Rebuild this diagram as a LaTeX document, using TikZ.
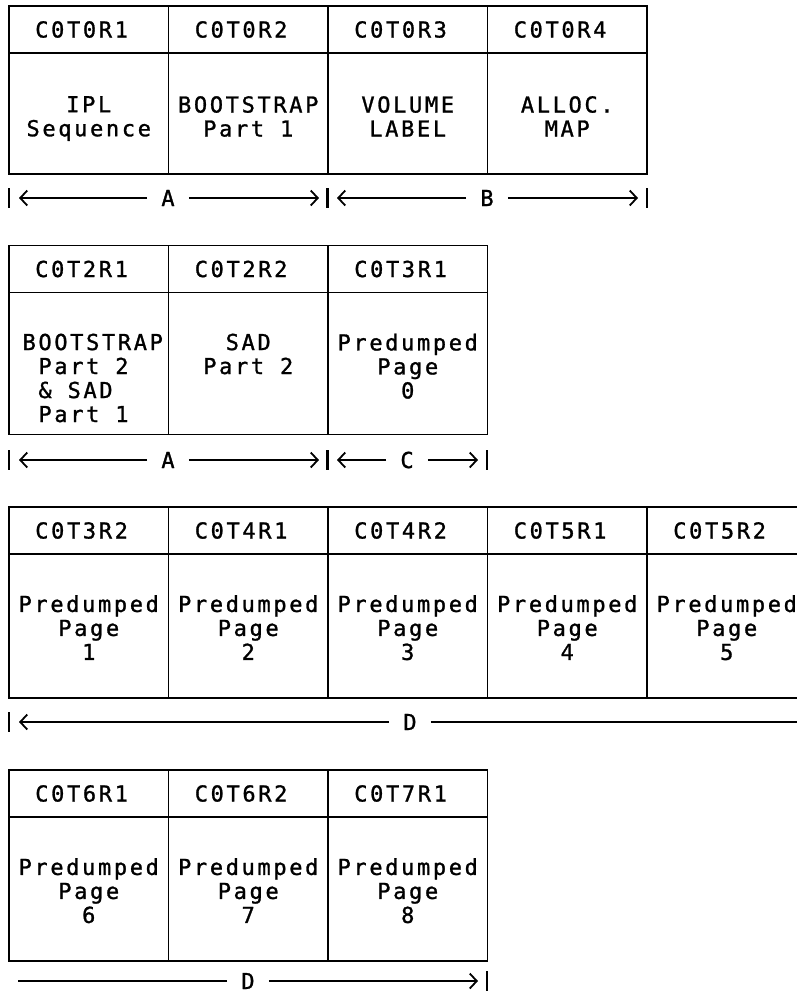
\documentclass[tikz,border=0pt]{standalone}
\usepackage{fontspec}
\newfontfamily\printfont{DejaVu Sans Mono}[LetterSpace=12, FakeBold=1.2]
\usepackage{tikz}
\usetikzlibrary{arrows.meta, positioning}
\tikzset{
  font=\printfont\fontsize{22}{24}\selectfont,
  hdrbox/.style={
    rectangle, draw, line width=1.7pt, outer sep=0pt, inner sep=0pt,
    minimum width=159.5pt, minimum height=47pt,
    text width=107pt, align=left
  },
  bodybox/.style={
    rectangle, draw, line width=1.7pt, outer sep=0pt, inner sep=0pt,
    minimum width=159.5pt, minimum height=144pt
  },
  bodytext/.style={inner sep=0pt, align=center, anchor=north},
  dimlabel/.style={inner xsep=14pt, inner ysep=0pt},
  dimline/.style={
    line width=1.4pt, -{Straight Barb[length=7pt, width=15pt, line width=1.8pt]}
  },
  plainline/.style={line width=1.4pt},
  tickmark/.style={line width=2.2pt}
}

\begin{document}
\begin{tikzpicture}[x=1pt, y=-1pt]
  \useasboundingbox (0,0) rectangle (796,994);

  % track 0
  \node[hdrbox] (h11) at (88.75,29.5) {C0T0R1};
  \node[hdrbox, right=0pt of h11] (h12) {C0T0R2};
  \node[hdrbox, right=0pt of h12] (h13) {C0T0R3};
  \node[hdrbox, right=0pt of h13] (h14) {C0T0R4};
  \node[bodybox, minimum height=121pt, below=0pt of h11] (b11) {};
  \node[bodybox, minimum height=121pt, below=0pt of h12] (b12) {};
  \node[bodybox, minimum height=121pt, below=0pt of h13] (b13) {};
  \node[bodybox, minimum height=121pt, below=0pt of h14] (b14) {};
  \node[bodytext, below=43pt of h11] (t11) {IPL\\Sequence};
  \node[bodytext, below=43pt of h12] (t12) {BOOTSTRAP\\Part 1};
  \node[bodytext, below=43pt of h13] (t13) {VOLUME\\LABEL};
  \node[bodytext, below=43pt of h14] (t14) {ALLOC.\\MAP};

  \coordinate (k10) at (9,198);
  \coordinate (k11) at (327.5,198);
  \coordinate (k12) at (647,198);
  \coordinate (e1a) at (19,198);
  \coordinate (e1b) at (319,198);
  \coordinate (e1c) at (337,198);
  \coordinate (e1d) at (638,198);
  \node[dimlabel] (lblA1) at (168,198) {A};
  \node[dimlabel] (lblB1) at (487,198) {B};
  \draw[dimline] (lblA1) -- (e1a);
  \draw[dimline] (lblA1) -- (e1b);
  \draw[dimline] (lblB1) -- (e1c);
  \draw[dimline] (lblB1) -- (e1d);
  \draw[tickmark] (k10) +(0,-10) -- +(0,10);
  \draw[tickmark] (k11) +(0,-10) -- +(0,10);
  \draw[tickmark] (k12) +(0,-10) -- +(0,10);

  % tracks 2 and 3
  \node[hdrbox] (h21) at (88.75,269) {C0T2R1};
  \node[hdrbox, right=0pt of h21] (h22) {C0T2R2};
  \node[hdrbox, right=0pt of h22] (h23) {C0T3R1};
  \node[bodybox, minimum height=142pt, below=0pt of h21] (b21) {};
  \node[bodybox, minimum height=142pt, below=0pt of h22] (b22) {};
  \node[bodybox, minimum height=142pt, below=0pt of h23] (b23) {};
  \node[bodytext, align=left, xshift=4pt, below=41pt of h21] (t21)
    {BOOTSTRAP\\~Part 2\\~\& SAD\\~Part 1};
  \node[bodytext, below=41pt of h22] (t22) {SAD\\Part 2};
  \node[bodytext, below=41pt of h23] (t23) {Predumped\\Page\\0};

  \coordinate (k20) at (9,460);
  \coordinate (k21) at (327.5,460);
  \coordinate (k22) at (487,460);
  \coordinate (e2a) at (19,460);
  \coordinate (e2b) at (319,460);
  \coordinate (e2c) at (337,460);
  \coordinate (e2d) at (478,460);
  \node[dimlabel] (lblA2) at (168,460) {A};
  \node[dimlabel] (lblC2) at (407,460) {C};
  \draw[dimline] (lblA2) -- (e2a);
  \draw[dimline] (lblA2) -- (e2b);
  \draw[dimline] (lblC2) -- (e2c);
  \draw[dimline] (lblC2) -- (e2d);
  \draw[tickmark] (k20) +(0,-10) -- +(0,10);
  \draw[tickmark] (k21) +(0,-10) -- +(0,10);
  \draw[tickmark] (k22) +(0,-10) -- +(0,10);

  % tracks 3 to 5
  \node[hdrbox] (h31) at (88.75,530.5) {C0T3R2};
  \node[hdrbox, right=0pt of h31] (h32) {C0T4R1};
  \node[hdrbox, right=0pt of h32] (h33) {C0T4R2};
  \node[hdrbox, right=0pt of h33] (h34) {C0T5R1};
  \node[hdrbox, right=0pt of h34] (h35) {C0T5R2};
  \node[bodybox, below=0pt of h31] (b31) {};
  \node[bodybox, below=0pt of h32] (b32) {};
  \node[bodybox, below=0pt of h33] (b33) {};
  \node[bodybox, below=0pt of h34] (b34) {};
  \node[bodybox, below=0pt of h35] (b35) {};
  \node[bodytext, below=41pt of h31] (t31) {Predumped\\Page\\1};
  \node[bodytext, below=41pt of h32] (t32) {Predumped\\Page\\2};
  \node[bodytext, below=41pt of h33] (t33) {Predumped\\Page\\3};
  \node[bodytext, below=41pt of h34] (t34) {Predumped\\Page\\4};
  \node[bodytext, below=41pt of h35] (t35) {Predumped\\Page\\5};

  \coordinate (k30) at (9,722);
  \coordinate (e3a) at (19,722);
  \coordinate (e3b) at (800,722);
  \node[dimlabel] (lblD3) at (410,722) {D};
  \draw[dimline] (lblD3) -- (e3a);
  \draw[plainline] (lblD3) -- (e3b);
  \draw[tickmark] (k30) +(0,-10) -- +(0,10);

  % tracks 6 and 7
  \node[hdrbox] (h41) at (88.75,793.5) {C0T6R1};
  \node[hdrbox, right=0pt of h41] (h42) {C0T6R2};
  \node[hdrbox, right=0pt of h42] (h43) {C0T7R1};
  \node[bodybox, below=0pt of h41] (b41) {};
  \node[bodybox, below=0pt of h42] (b42) {};
  \node[bodybox, below=0pt of h43] (b43) {};
  \node[bodytext, below=41pt of h41] (t41) {Predumped\\Page\\6};
  \node[bodytext, below=41pt of h42] (t42) {Predumped\\Page\\7};
  \node[bodytext, below=41pt of h43] (t43) {Predumped\\Page\\8};

  \coordinate (k40) at (487,981);
  \coordinate (e4a) at (18,981);
  \coordinate (e4b) at (478,981);
  \node[dimlabel] (lblD4) at (248,981) {D};
  \draw[plainline] (lblD4) -- (e4a);
  \draw[dimline] (lblD4) -- (e4b);
  \draw[tickmark] (k40) +(0,-10) -- +(0,10);
\end{tikzpicture}
\end{document}
